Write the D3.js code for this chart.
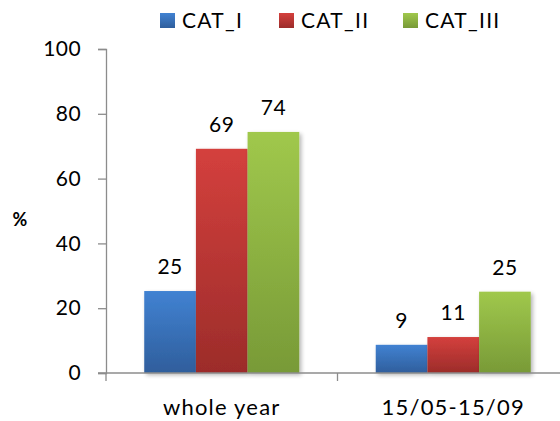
<!DOCTYPE html>
<html><head><meta charset="utf-8">
<script src="https://cdn.jsdelivr.net/npm/d3@7"></script>
<style>body{margin:0;background:#fff}svg{display:block}text{font-family:Lato,"Open Sans",sans-serif;fill:#000}</style>
</head><body><svg id="c" width="560" height="421"></svg>
<script>
const categories = ["whole year", "15/05-15/09"];
const seriesNames = ["CAT_I", "CAT_II", "CAT_III"];
const catI = [25.3, 8.7];
const catII = [69.2, 11.1];
const catIII = [74.4, 25.1];
const yTicks = [0, 20, 40, 60, 80, 100];
const colorsTop = ["#4182d2", "#d4403d", "#a0c84c"];
const colorsBot = ["#2f5e9c", "#9c2c2a", "#789a37"];

const svg = d3.select("#c");
const W = 560, H = 421;
const m = {l:106, r:-9, t:49, b:48};
const x0 = d3.scaleBand().domain(categories).range([m.l, W - m.r]).paddingInner(0).paddingOuter(0);
const x1 = d3.scaleBand().domain(seriesNames).range([0, x0.bandwidth()]).paddingInner(0).paddingOuter(0.74);
const y = d3.scaleLinear().domain([0, 100]).range([H - m.b, m.t]);

const defs = svg.append("defs");
seriesNames.forEach((s, i) => {
  const g = defs.append("linearGradient").attr("id", "g" + i).attr("x1", 0).attr("y1", 0).attr("x2", 0).attr("y2", 1);
  g.append("stop").attr("offset", "0%").attr("stop-color", colorsTop[i]);
  g.append("stop").attr("offset", "100%").attr("stop-color", colorsBot[i]);
});
const f = defs.append("filter").attr("id", "sh").attr("x", "-20%").attr("y", "-20%").attr("width", "150%").attr("height", "150%");
f.append("feGaussianBlur").attr("in", "SourceAlpha").attr("stdDeviation", 2).attr("result", "b");
f.append("feOffset").attr("in", "b").attr("dx", 2).attr("dy", 2).attr("result", "o");
f.append("feComponentTransfer").attr("in", "o").attr("result", "o2").append("feFuncA").attr("type", "linear").attr("slope", 0.3);
const mg = f.append("feMerge"); mg.append("feMergeNode").attr("in", "o2"); mg.append("feMergeNode").attr("in", "SourceGraphic");

const series = [catI, catII, catIII];
const data = [];
categories.forEach((c, ci) => seriesNames.forEach((s, si) => data.push({c, s, si, v: series[si][ci]})));

// axes
const yAxis = d3.axisLeft(y).tickValues(yTicks).tickSize(8).tickPadding(17);
const ga = svg.append("g").attr("transform", `translate(${m.l},0)`).call(yAxis);
ga.select(".domain").attr("stroke", "#8c8c8c").attr("stroke-width", 1.3);
ga.selectAll(".tick line").attr("stroke", "#8c8c8c").attr("stroke-width", 1.3);
ga.selectAll(".tick text").attr("font-size", 21).attr("font-family", "Lato,sans-serif").attr("fill", "#000").style("letter-spacing", "0.4px");

// bars
svg.append("g").selectAll("rect").data(data).join("rect")
  .attr("x", d => x0(d.c) + x1(d.s))
  .attr("width", x1.bandwidth())
  .attr("y", d => y(d.v))
  .attr("height", d => y(0) - y(d.v))
  .attr("fill", d => `url(#g${d.si})`)
  .attr("filter", "url(#sh)");

// x axis
const xa = svg.append("g").attr("transform", `translate(0,${y(0)})`);
xa.append("line").attr("x1", m.l - 8).attr("x2", W).attr("y1", 0).attr("y2", 0).attr("stroke", "#8c8c8c").attr("stroke-width", 1.3);
xa.selectAll("line.t").data(categories.slice(1)).join("line").attr("class", "t")
  .attr("x1", d => x0(d)).attr("x2", d => x0(d)).attr("y1", 0).attr("y2", 8).attr("stroke", "#8c8c8c").attr("stroke-width", 1.3);
xa.append("line").attr("x1", m.l).attr("x2", m.l).attr("y1", 0).attr("y2", 8).attr("stroke", "#8c8c8c").attr("stroke-width", 1.3);
xa.selectAll("text").data(categories).join("text")
  .attr("x", d => x0(d) + x0.bandwidth() / 2).attr("y", 42)
  .attr("text-anchor", "middle").attr("font-size", 22).style("letter-spacing", "1.2px").text(d => d);

// value labels
svg.append("g").selectAll("text").data(data).join("text")
  .attr("x", d => x0(d.c) + x1(d.s) + x1.bandwidth() / 2)
  .attr("y", d => y(d.v) - 17)
  .attr("text-anchor", "middle").attr("font-size", 21).style("letter-spacing", "0.5px")
  .text(d => d3.format(".0f")(d.v));

// y title
svg.append("text").attr("x", 20).attr("y", 226).attr("text-anchor", "middle").attr("font-size", 18).attr("font-weight", "bold").text("%");

// legend
const legX = [160, 279, 403];
const lg = svg.append("g").selectAll("g").data(seriesNames).join("g").attr("transform", (d, i) => `translate(${legX[i]},13)`);
lg.append("rect").attr("width", 15).attr("height", 15).attr("fill", (d, i) => `url(#g${i})`);
lg.append("text").attr("x", 22).attr("y", 15).attr("font-size", 21).style("letter-spacing", "1.3px").text(d => d);
</script></body></html>
